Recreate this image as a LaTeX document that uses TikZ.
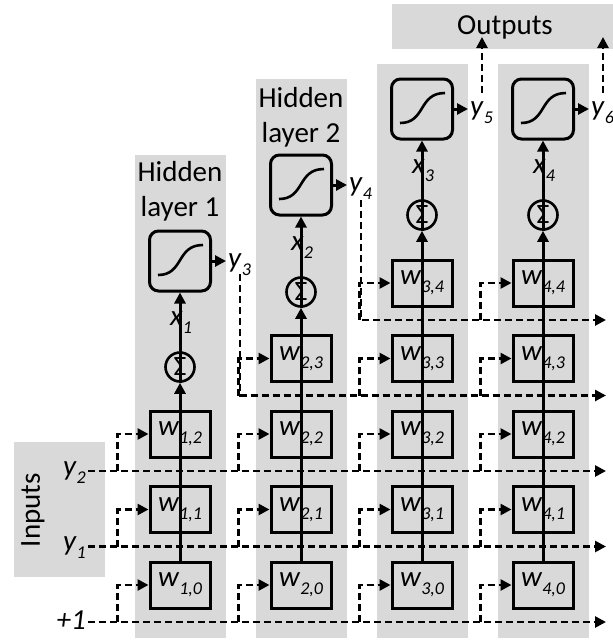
\documentclass[tikz,border=0pt]{standalone}
\usepackage{fontspec}
\setmainfont{Carlito}
\usetikzlibrary{arrows.meta,calc}
\definecolor{panel}{RGB}{217,217,217}
% italic symbol with a lowered italic index
\newcommand{\sym}[2]{\textit{#1}\raisebox{-8pt}{\fontsize{18}{18}\selectfont\itshape #2}}
\tikzset{
  wbox/.style={draw,line width=3pt,minimum width=60pt,minimum height=46pt,inner sep=0pt,
    font=\fontsize{29}{34}\selectfont},
  sigbox/.style={draw,line width=3pt,rounded corners=9pt,minimum width=61pt,minimum height=60pt,inner sep=0pt},
  sumnode/.style={draw,circle,line width=2.6pt,minimum size=29pt,inner sep=0pt,
    font=\fontsize{28}{28}\selectfont},
  solidline/.style={line width=3pt},
  dashline/.style={line width=2.6pt,dash pattern=on 7pt off 4pt},
  arr/.style={-{Triangle[length=11pt,width=11pt]}},
  txt/.style={font=\fontsize{29}{35}\selectfont,inner sep=0pt},
}
\begin{document}
\begin{tikzpicture}[x=1pt,y=-1pt]
\useasboundingbox (0,0) rectangle (613,640);
% grey panels behind the layers
\fill[panel] (135,155) rectangle (226,638);
\fill[panel] (256,79) rectangle (347,638);
\fill[panel] (377,64) rectangle (468,638);
\fill[panel] (498,64) rectangle (589,638);
\fill[panel] (14,442) rectangle (105,577);
\fill[panel] (392,4) rectangle (613,49);

% panel titles
\node[txt] (inputs) at (33,510) [rotate=90] {Inputs};
\node[txt] (outputs) at (505,27) {Outputs};
\node[txt,align=center] (hid1) at (180,191) {Hidden\\layer 1};
\node[txt,align=center] (hid2) at (301,117) {Hidden\\layer 2};

% weight boxes
\foreach \i/\top in {1/2,2/3,3/4,4/4}{
  \foreach \j in {0,...,\top}{
    \node[wbox] (w\i\j) at ({180+121*(\i-1)},{585-75.5*\j}) {\sym{w}{\i,\j}};
  }
}

% summation and activation units
\node[sumnode] (m1) at (180,367) {Σ};
\node[sumnode] (m2) at (301,292) {Σ};
\node[sumnode] (m3) at (422,215) {Σ};
\node[sumnode] (m4) at (543,215) {Σ};
\node[sigbox] (s1) at (180,261) {};
\node[sigbox] (s2) at (301,185) {};
\node[sigbox] (s3) at (422,109) {};
\node[sigbox] (s4) at (543,109) {};
\foreach \i in {1,...,4}{
  \draw[line width=2.6pt] ([shift={(-22,14)}]s\i.center)
    .. controls ([shift={(4,14)}]s\i.center) and ([shift={(-4,-16)}]s\i.center)
    .. ([shift={(23,-16)}]s\i.center);
}

% input labels and their lines
\node[txt,anchor=east] (one) at (86,620) {\textit{+1}};
\node[txt,anchor=east] (in1) at (86,548) {\sym{y}{1}};
\node[txt,anchor=east] (in2) at (86,473) {\sym{y}{2}};
\coordinate (a0) at (88,622);   \coordinate (b0) at (606,622);
\coordinate (a1) at (88,546.5); \coordinate (b1) at (606,546.5);
\coordinate (a2) at (88,471);   \coordinate (b2) at (606,471);
\foreach \k in {0,1,2}{ \draw[dashline,arr] (a\k) -- (b\k); }

% outputs of the units
\foreach \i/\o in {1/3,2/4,3/5,4/6}{
  \coordinate (t\i) at ($(s\i.east)+(14,0)$);
  \draw[solidline,arr] (s\i.east) -- (t\i);
  \node[txt,anchor=west] (y\o) at ($(s\i.east)+(16,4)$) {\sym{y}{\o}};
}

% fed-back hidden outputs
\coordinate (a3) at (240,274); \coordinate (c3) at (240,395.5); \coordinate (b3) at (606,395.5);
\coordinate (a4) at (361,200); \coordinate (c4) at (361,320);   \coordinate (b4) at (606,320);
\draw[dashline,arr] (a3) -- (c3) -- (b3);
\draw[dashline,arr] (a4) -- (c4) -- (b4);

% branches into the weights
\foreach \i/\top in {1/2,2/3,3/4,4/4}{
  \foreach \j in {0,...,\top}{
    \draw[dashline,arr] ($(w\i\j.west)+(-31,37)$) |- (w\i\j.west);
  }
}

% network outputs
\coordinate (o5) at (482,93); \coordinate (p5) at (482,37);
\coordinate (o6) at (603,93); \coordinate (p6) at (603,37);
\draw[dashline,arr] (o5) -- (p5);
\draw[dashline,arr] (o6) -- (p6);

% signal flow inside each layer
\foreach \i in {1,...,4}{
  \draw[solidline,arr] (w\i0.north) -- (m\i.south);
  \draw[solidline,arr] (m\i.south) -- (s\i.south);
  \node[txt] (x\i) at ($(m\i.north)!0.5!(s\i.south)+(1,1)$) {\sym{x}{\i}};
}
\end{tikzpicture}
\end{document}
